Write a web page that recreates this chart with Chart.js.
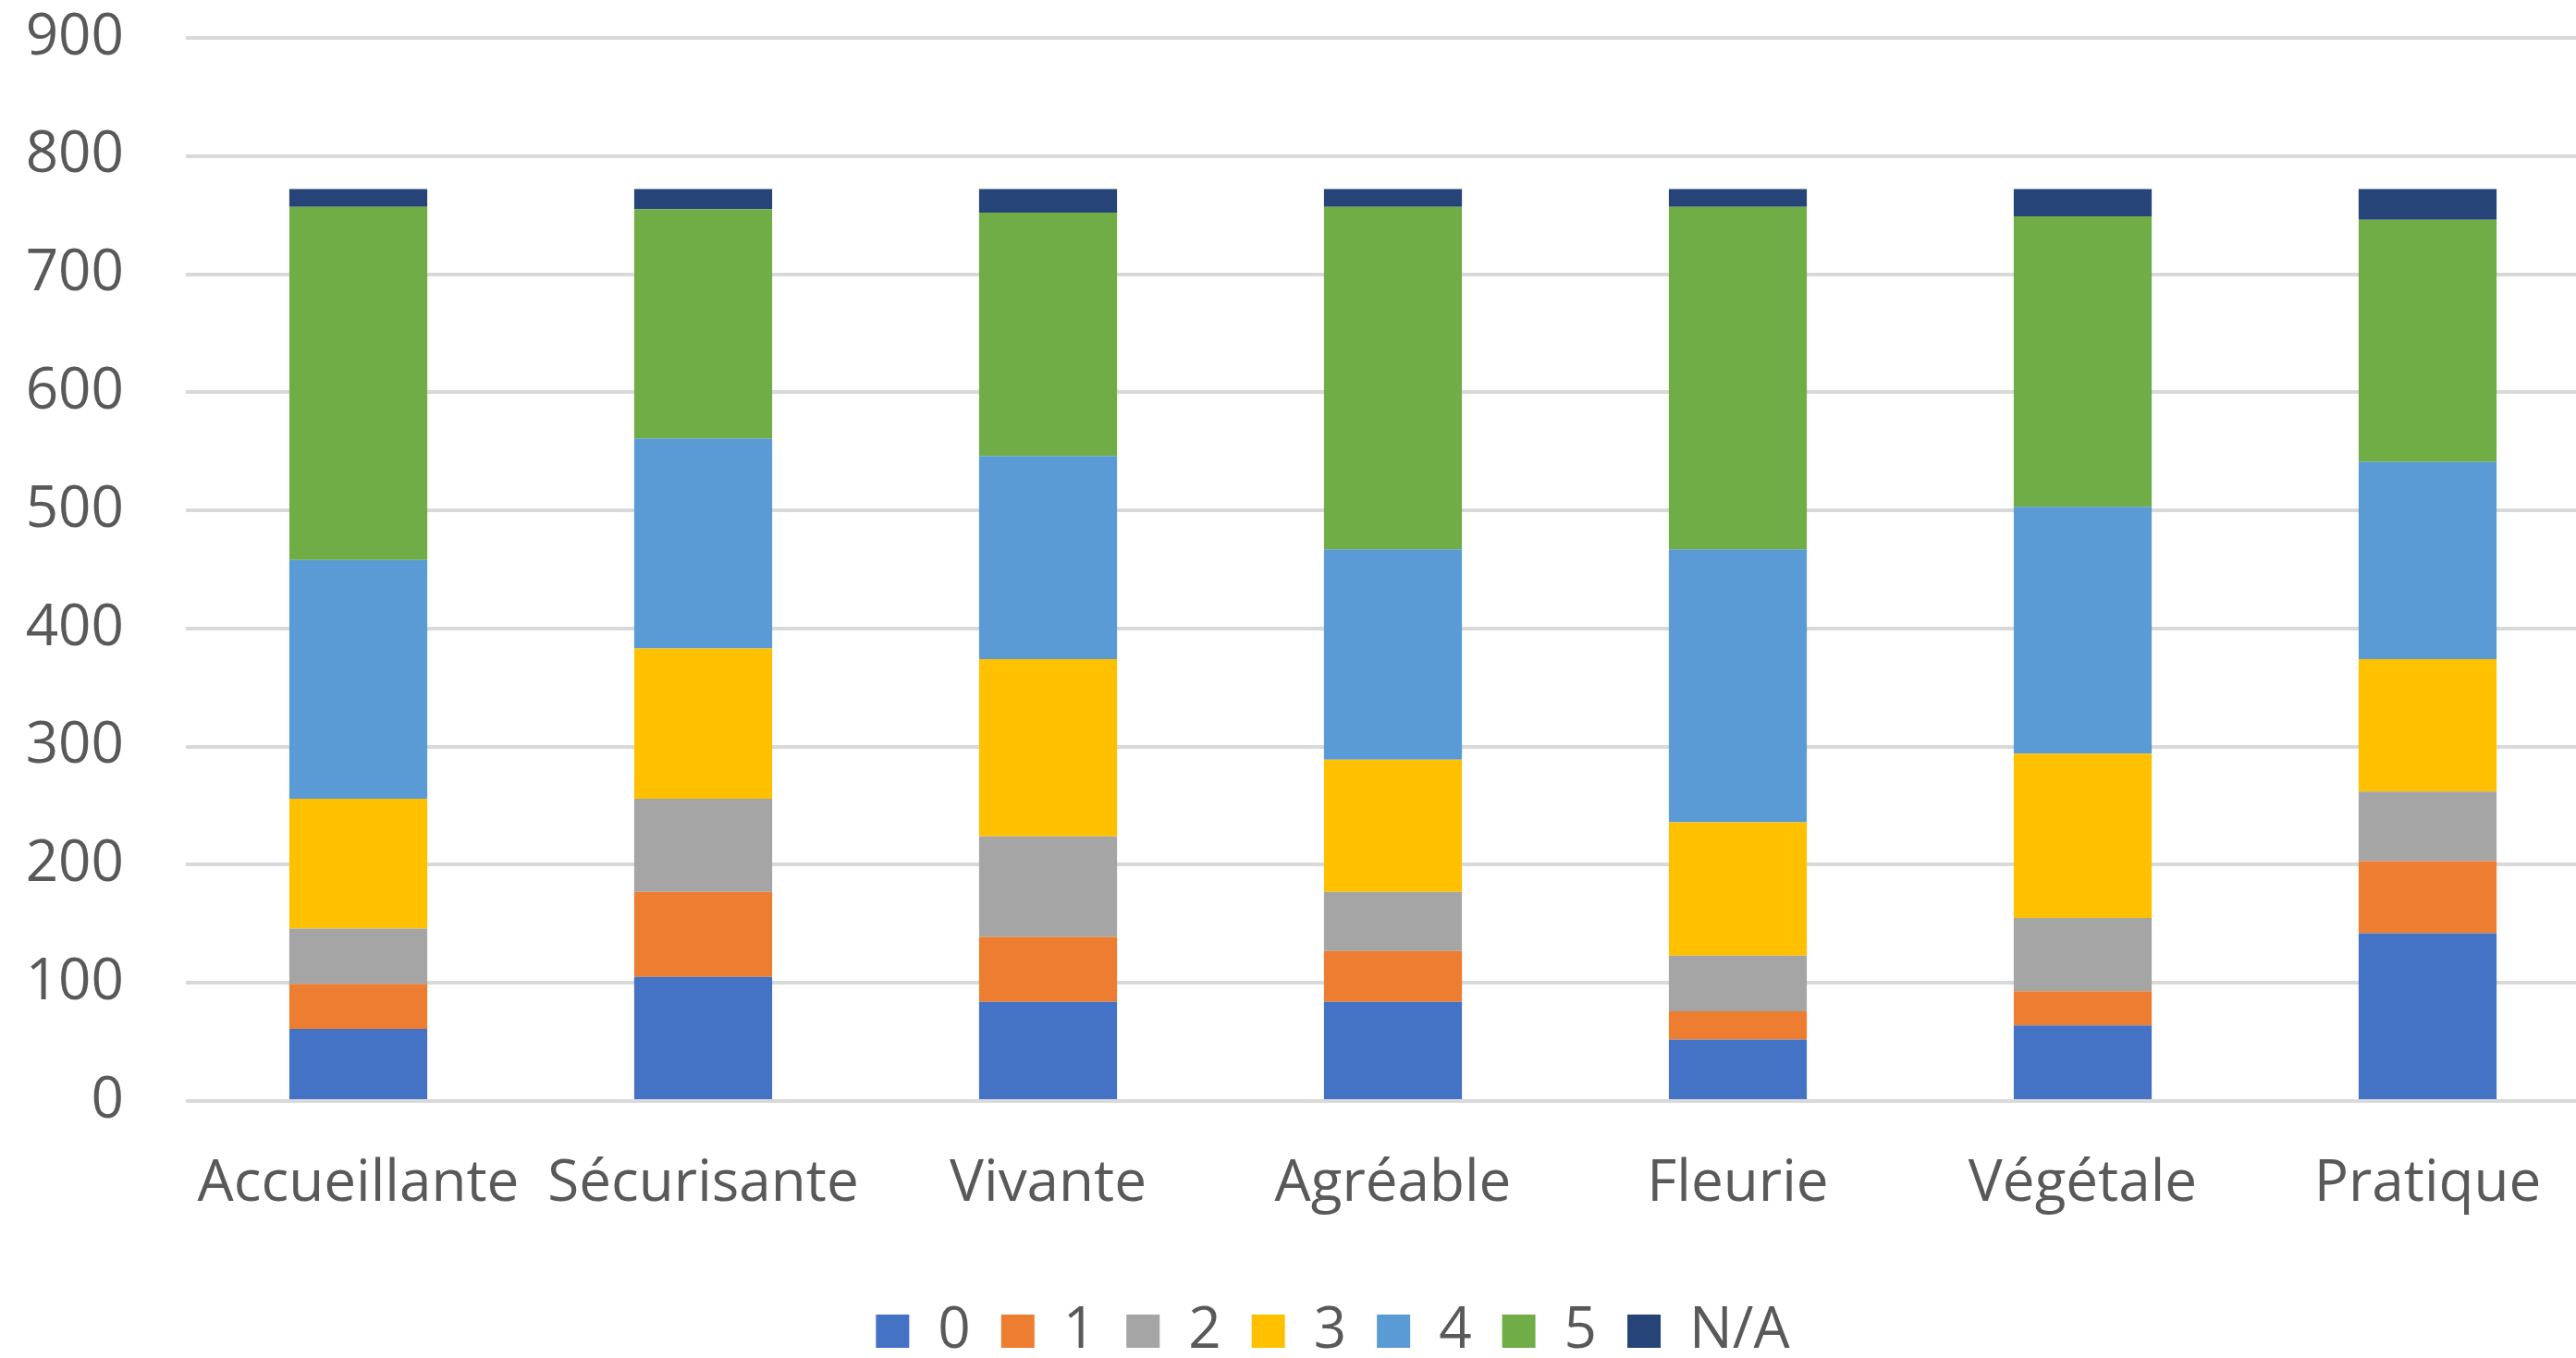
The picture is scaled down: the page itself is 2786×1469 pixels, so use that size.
<!DOCTYPE html>
<html>
<head>
<meta charset="utf-8">
<script src="https://cdn.jsdelivr.net/npm/chart.js@4/dist/chart.umd.min.js"></script>
<style>
  html, body { margin: 0; padding: 0; background: #ffffff; overflow: hidden; }
  #wrap { width: 2786px; height: 1469px; overflow: hidden; }
</style>
</head>
<body>
<div id="wrap"><canvas id="c" width="2812" height="1469"></canvas></div>
<script>
const categories = ["Accueillante", "Sécurisante", "Vivante", "Agréable", "Fleurie", "Végétale", "Pratique"];
const seriesNames = ["0", "1", "2", "3", "4", "5", "N/A"];
const s0  = [61, 105, 84, 84, 52, 64, 142];
const s1  = [38, 72, 55, 43, 24, 29, 61];
const s2  = [47, 79, 85, 50, 47, 62, 59];
const s3  = [110, 127, 150, 112, 113, 139, 112];
const s4  = [202, 178, 172, 178, 231, 209, 167];
const s5  = [299, 194, 206, 290, 290, 246, 205];
const sNA = [15, 17, 20, 15, 15, 23, 26];
const yTicks = [0, 100, 200, 300, 400, 500, 600, 700, 800, 900];
const colors = ["#4472C4", "#ED7D31", "#A5A5A5", "#FFC000", "#5B9BD5", "#70AD47", "#264478"];

const allSeries = [s0, s1, s2, s3, s4, s5, sNA];
const datasets = allSeries.map((d, i) => ({
  label: seriesNames[i],
  data: d,
  backgroundColor: colors[i],
  borderWidth: 0,
  categoryPercentage: 0.40,
  barPercentage: 1.0
}));

const FONT = { family: 'Open Sans', size: 62 };

// shift the legend box horizontally so it is centred like the original
const legendShift = {
  id: 'legendShift',
  afterLayout(chart) {
    const lg = chart.legend;
    if (lg) { lg.left += 21; lg.right += 21; }
  }
};

new Chart(document.getElementById('c'), {
  type: 'bar',
  data: { labels: categories, datasets: datasets },
  plugins: [legendShift],
  options: {
    responsive: false,
    animation: false,
    devicePixelRatio: 1,
    layout: { padding: { left: 29, right: 0, top: 41, bottom: -12 } },
    plugins: {
      tooltip: { enabled: false },
      legend: {
        position: 'bottom',
        labels: {
          boxWidth: 36,
          boxHeight: 36,
          padding: 33,
          color: '#595959',
          font: FONT
        }
      }
    },
    scales: {
      x: {
        stacked: true,
        grid: { display: false },
        border: { display: false },
        ticks: {
          color: '#595959',
          font: FONT,
          padding: 45,
          maxRotation: 0,
          autoSkip: false
        },
        afterFit: (axis) => { axis.height = 185; }
      },
      y: {
        stacked: true,
        min: 0,
        max: 900,
        afterBuildTicks: (axis) => { axis.ticks = yTicks.map(v => ({ value: v })); },
        grid: { color: '#d9d9d9', lineWidth: 4, drawTicks: false },
        border: { display: false },
        ticks: {
          color: '#595959',
          font: FONT,
          padding: 67
        },
        afterFit: (axis) => { axis.width = 172; axis.paddingTop = 0; axis.paddingBottom = 0; }
      }
    }
  }
});
</script>
</body>
</html>
